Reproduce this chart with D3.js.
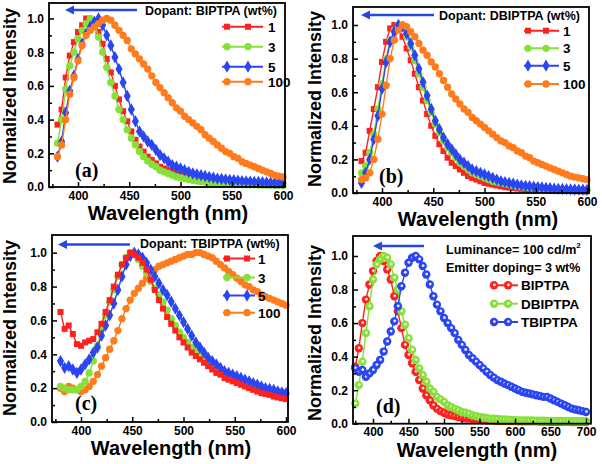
<!DOCTYPE html>
<html><head><meta charset="utf-8">
<script src="https://cdn.jsdelivr.net/npm/d3@7/dist/d3.min.js"></script>
<style>
body{margin:0;background:#fff}
svg{display:block;background:#fff}
text{font-family:"Liberation Sans",Arial,sans-serif;font-weight:bold;fill:#000}
.plabel{font-family:"Liberation Serif","Times New Roman",serif;font-weight:bold}
</style>
</head><body>
<svg id="c" width="602" height="464"></svg>
<script>
// ---------- data ----------
const wlABC = [380,384,388,392,396,400,404,408,412,416,420,424,428,432,436,440,444,448,452,456,
  460,464,468,472,476,480,484,488,492,496,500,504,508,512,516,520,524,528,532,536,
  540,544,548,552,556,560,564,568,572,576,580,584,588,592,596,600];

// (a) BIPTPA
const a1 = [.37,.46,.65,.78,.86,.92,.96,1.0,.99,.97, .92,.85,.76,.68,.60,.52,.45,.39,.33,.28,
  .24,.21,.18,.16,.14,.12,.11,.10,.09,.08, .07,.065,.06,.05,.045,.04,.038,.035,.032,.03,
  .028,.026,.024,.022,.02,.02,.018,.017,.016,.015, .015,.014,.013,.013,.012,.012];
const a3 = [.26,.40,.58,.72,.80,.88,.93,.97,1.0,.97, .89,.80,.71,.62,.54,.46,.40,.34,.29,.25,
  .21,.18,.155,.135,.12,.10,.09,.08,.07,.06, .055,.05,.045,.04,.035,.032,.03,.027,.025,.023,
  .021,.02,.018,.017,.016,.015,.014,.013,.013,.012, .012,.011,.011,.01,.01,.01];
const a5 = [.18,.27,.44,.57,.66,.76,.85,.91,.95,.98, 1.0,.96,.90,.84,.77,.70,.62,.54,.46,.39,
  .33,.30,.27,.25,.22,.19,.17,.15,.13,.12, .11,.10,.09,.08,.075,.07,.065,.06,.055,.05,
  .048,.045,.042,.04,.038,.035,.033,.032,.03,.03, .028,.027,.026,.025,.025,.024];
const a100 = [.18,.25,.40,.55,.65,.75,.84,.90,.93,.95, .97,.99,1.0,.99,.96,.93,.90,.87,.82,.79,
  .76,.73,.70,.66,.62,.59,.56,.53,.50,.47, .45,.42,.40,.38,.36,.34,.31,.29,.27,.25,
  .23,.21,.20,.18,.17,.15,.14,.13,.12,.11, .10,.09,.08,.07,.065,.06];

// (b) DBIPTPA
const b1 = [.19,.24,.37,.50,.63,.78,.90,.98,1.0,.98, .93,.86,.79,.71,.63,.55,.47,.40,.34,.29,
  .25,.21,.18,.16,.14,.12,.10,.09,.08,.07, .06,.055,.05,.045,.04,.035,.032,.03,.027,.025,
  .023,.021,.02,.018,.017,.016,.015,.014,.013,.013, .012,.012,.011,.011,.01,.01];
const b3 = [.12,.16,.24,.35,.50,.65,.80,.91,.97,1.0, .98,.93,.87,.79,.71,.63,.55,.48,.41,.36,
  .31,.27,.24,.21,.18,.16,.14,.12,.11,.10, .09,.08,.07,.065,.06,.055,.05,.045,.04,.037,
  .034,.032,.03,.028,.026,.024,.022,.021,.02,.019, .018,.017,.016,.016,.015,.015];
const b5 = [.06,.12,.20,.32,.46,.62,.78,.90,.96,1.0, .99,.95,.89,.82,.74,.66,.58,.50,.43,.38,
  .33,.29,.26,.23,.20,.18,.16,.14,.13,.12, .11,.10,.09,.08,.07,.065,.06,.055,.05,.045,
  .042,.04,.037,.035,.033,.03,.028,.026,.025,.024, .023,.022,.021,.02,.02,.019];
const b100 = [.08,.09,.12,.20,.32,.47,.64,.80,.91,.97, 1.0,.99,.96,.93,.89,.85,.82,.78,.75,.71,
  .67,.63,.59,.56,.53,.50,.48,.45,.43,.41, .39,.37,.35,.33,.31,.30,.28,.27,.25,.24,
  .22,.21,.19,.18,.17,.16,.15,.14,.13,.12, .11,.10,.095,.09,.085,.08];

// (c) TBIPTPA
const c1 = [.65,.55,.57,.52,.46,.45,.47,.48,.49,.53, .58,.65,.72,.80,.87,.93,.97,1.0,.99,.97,
  .94,.90,.84,.78,.72,.67,.62,.58,.54,.50, .47,.44,.41,.39,.37,.35,.33,.31,.29,.28,
  .26,.25,.24,.23,.22,.21,.20,.19,.18,.17, .165,.16,.15,.145,.14,.135];
const c3 = [.21,.20,.19,.19,.19,.21,.24,.29,.36,.45, .55,.63,.71,.78,.86,.93,.97,1.0,.99,.96,
  .92,.88,.83,.79,.75,.71,.66,.61,.57,.53, .50,.47,.44,.42,.40,.38,.36,.34,.32,.31,
  .29,.28,.27,.26,.25,.24,.23,.22,.21,.20, .195,.19,.185,.18,.175,.17];
const c5 = [.36,.32,.33,.31,.29,.31,.34,.37,.41,.44, .51,.57,.63,.70,.78,.86,.93,.98,1.0,.99,
  .97,.94,.90,.86,.82,.78,.75,.71,.67,.63, .59,.55,.51,.47,.44,.41,.38,.36,.34,.32,
  .30,.29,.28,.27,.26,.25,.24,.23,.22,.21, .20,.195,.19,.18,.175,.17];
const c100 = [.20,.18,.21,.20,.19,.18,.19,.21,.24,.28, .33,.38,.43,.48,.54,.61,.67,.72,.76,.79,
  .82,.85,.88,.90,.92,.93,.94,.95,.96,.97, .98,.99,.99,1.0,1.0,.99,.98,.97,.95,.93,
  .91,.89,.87,.85,.83,.81,.80,.78,.77,.75, .74,.73,.72,.71,.70,.69];

// (d) 100 cd/m2, 3 wt%
const wlD = [375,380,385,390,395,400,405,410,415,420,425,430,435,440,445,450,455,460,465,470,
  475,480,485,490,495,500,505,510,515,520,525,530,535,540,545,550,555,560,565,570,
  575,580,585,590,595,600,605,610,615,620,625,630,635,640,645,650,655,660,665,670,
  675,680,685,690,695,700];
const dB = [.34,.45,.60,.74,.83,.91,.97,1.0,.97,.92, .86,.76,.67,.57,.47,.41,.36,.31,.26,.21,
  .17,.14,.11,.09,.075,.065,.055,.05,.045,.04, .035,.032,.03,.028,.026,.024,.022,.02,.02,.019,
  .018,.018,.017,.017,.016,.016,.015,.015,.015,.014, .014,.014,.013,.013,.013,.012,.012,.012,.011,.011,
  .011,.01,.01,.01,.01,.01];
const dD = [.12,.23,.37,.54,.70,.86,.95,.98,1.0,.99, .95,.87,.80,.67,.59,.51,.44,.38,.33,.29,
  .25,.21,.19,.16,.145,.13,.11,.10,.09,.08, .07,.065,.06,.05,.045,.04,.037,.035,.03,.03,
  .028,.026,.025,.024,.022,.021,.02,.02,.02,.019, .019,.018,.018,.018,.017,.017,.016,.016,.016,.015,
  .015,.015,.015,.015,.015,.015];
const dT = [.33,.31,.32,.28,.30,.32,.35,.38,.43,.49, .55,.61,.70,.82,.90,.96,.99,1.0,.98,.94,
  .89,.83,.76,.71,.67,.63,.60,.57,.54,.50, .47,.44,.41,.39,.37,.35,.33,.31,.29,.275,
  .26,.25,.24,.23,.22,.21,.20,.19,.185,.18, .175,.17,.165,.16,.16,.15,.14,.13,.12,.11,
  .10,.09,.085,.08,.075,.07];

const yTicks = [0, 0.2, 0.4, 0.6, 0.8, 1.0];
const yMinor = [0.1, 0.3, 0.5, 0.7, 0.9];
const xTicksABC = [400, 450, 500, 550, 600];
const xMinorABC = [375, 425, 475, 525, 575];
const xTicksD = [400, 450, 500, 550, 600, 650, 700];
const xMinorD = [375, 425, 475, 525, 575, 625, 675];
const legendABC = ["1", "3", "5", "100"];
const legendD = ["BIPTPA", "DBIPTPA", "TBIPTPA"];
const dopantText = ["Dopant: BIPTPA (wt%)", "Dopant: DBIPTPA (wt%)", "Dopant: TBIPTPA (wt%)"];
const panelLabels = ["(a)", "(b)", "(c)", "(d)"];
const xTitle = "Wavelength (nm)";
const yTitle = "Normalized Intensity";

// ---------- styling ----------
const RED = "#ff2020", GREEN = "#86e03a", BLUE = "#2a46f2", ORANGE = "#ff7b1c", ARROW = "#2848dc";
const svg = d3.select("#c");

const panels = [
  {frame:{l:49,r:285,t:3,b:187}, y1:18.5, xAnch:[400,600], xPix:[78,283], major:xTicksABC, minor:xMinorABC,
   wl:wlABC, series:[[a1,RED,"sq"],[a3,GREEN,"ci"],[a5,BLUE,"di"],[a100,ORANGE,"ci"]],
   legend:{labels:legendABC, x1:222, x2:263, m:[227,248], tx:268, ys:[26.7,46.7,66.7,81.7]},
   arrow:{x1:137,x2:65,y:10}, note:{lines:[dopantText[0]], x:145, ys:[14.5]},
   label:{t:panelLabels[0], x:75, y:177}, xt:{x:168}, yt:{x:16, y:96}},
  {frame:{l:353,r:589,t:7,b:193}, y1:25, xAnch:[400,600], xPix:[382,587], major:xTicksABC, minor:xMinorABC,
   wl:wlABC, series:[[b1,RED,"sq"],[b3,GREEN,"ci"],[b5,BLUE,"di"],[b100,ORANGE,"ci"]],
   legend:{labels:legendABC, x1:524, x2:559, m:[528,546], tx:563, ys:[30.7,48.3,65.7,84]},
   arrow:{x1:434,x2:361,y:15}, note:{lines:[dopantText[1]], x:439, ys:[19.5]},
   label:{t:panelLabels[1], x:379, y:183}, xt:{x:478}, yt:{x:321, y:99}},
  {frame:{l:52,r:288,t:235,b:422}, y1:252.7, xAnch:[400,600], xPix:[81,286], major:xTicksABC, minor:xMinorABC,
   wl:wlABC, series:[[c100,ORANGE,"ci"],[c3,GREEN,"ci"],[c5,BLUE,"di"],[c1,RED,"sq"]],
   legendOrder:[3,1,2,0],
   legend:{labels:legendABC, x1:223, x2:255, m:[227,247], tx:258, ys:[258.5,277.5,295.5,312.7]},
   arrow:{x1:130,x2:58,y:244.5}, note:{lines:[dopantText[2]], x:140, ys:[248]},
   label:{t:panelLabels[2], x:75, y:410}, xt:{x:171}, yt:{x:16, y:328}},
  {frame:{l:353,r:591,t:236,b:423.7}, y1:256, xAnch:[400,700], xPix:[373,586], major:xTicksD, minor:xMinorD,
   wl:wlD, series:[[dB,RED,"sp"],[dD,GREEN,"sp"],[dT,BLUE,"sp"]],
   legend:{labels:legendD, x1:491, x2:518, m:[494,508], tx:521, ys:[285.3,303.7,322]},
   arrow:{x1:424,x2:373,y:246}, note:{lines:["Luminance= 100 cd/m", "Emitter doping= 3 wt%"], x:446, ys:[254,272], sup:true},
   label:{t:panelLabels[3], x:376, y:413}, xt:{x:477}, yt:{x:321, y:333}}
];

function drawMarker(g, type, color, cx, cy) {
  if (type === "sp") {
    g.append("circle").attr("cx", cx).attr("cy", cy).attr("r", 4.2).attr("fill", color);
    g.append("circle").attr("cx", cx + 0.4).attr("cy", cy - 0.4).attr("r", 1.4).attr("fill", "#fff").attr("opacity", 0.9);
    return;
  }
  const t = type === "sq" ? d3.symbolSquare : type === "di" ? d3.symbolDiamond : d3.symbolCircle;
  const size = type === "sq" ? 36 : type === "di" ? 44 : 42;
  g.append("path").attr("d", d3.symbol().type(t).size(size)())
    .attr("transform", `translate(${cx},${cy})`).attr("fill", color);
}

panels.forEach(p => {
  const f = p.frame;
  const g = svg.append("g");
  const k = (p.xPix[1] - p.xPix[0]) / (p.xAnch[1] - p.xAnch[0]);
  const x = d3.scaleLinear()
    .domain([p.xAnch[0] - (p.xPix[0] - f.l) / k, p.xAnch[1] + (f.r - p.xPix[1]) / k])
    .range([f.l, f.r]);
  const y = d3.scaleLinear().domain([0, 1]).range([f.b, p.y1]);

  // series
  const line = d3.line().x((d, i) => x(p.wl[i])).y(d => y(d));
  p.series.forEach(([vals, color, type]) => {
    const sg = g.append("g");
    sg.append("path").attr("d", line(vals)).attr("fill", "none")
      .attr("stroke", color).attr("stroke-width", 1.4);
    vals.forEach((v, i) => drawMarker(sg, type, color, x(p.wl[i]), y(v)));
  });

  // axes
  const ax = g.append("g").attr("transform", `translate(0,${f.b})`)
    .call(d3.axisBottom(x).tickValues(p.major).tickSize(-5).tickPadding(4).tickFormat(d3.format("d")));
  const axm = g.append("g").attr("transform", `translate(0,${f.b})`)
    .call(d3.axisBottom(x).tickValues(p.minor).tickSize(-3).tickFormat(""));
  const ay = g.append("g").attr("transform", `translate(${f.l},0)`)
    .call(d3.axisLeft(y).tickValues(yTicks).tickSize(-5).tickPadding(5).tickFormat(d3.format(".1f")));
  const aym = g.append("g").attr("transform", `translate(${f.l},0)`)
    .call(d3.axisLeft(y).tickValues(yMinor).tickSize(-3).tickFormat(""));
  [ax, axm, ay, aym].forEach(a => {
    a.select(".domain").remove();
    a.selectAll("line").attr("stroke", "#000").attr("stroke-width", 1.5);
    a.selectAll("text").attr("font-size", 12).attr("font-family", "Liberation Sans, Arial, sans-serif")
      .attr("font-weight", "bold").attr("fill", "#000");
  });
  g.append("rect").attr("x", f.l).attr("y", f.t).attr("width", f.r - f.l).attr("height", f.b - f.t)
    .attr("fill", "none").attr("stroke", "#000").attr("stroke-width", 1.8);

  // titles
  g.append("text").attr("x", p.xt.x).attr("y", f.b + 33).attr("text-anchor", "middle")
    .attr("font-size", 20).text(xTitle);
  g.append("text").attr("transform", `translate(${p.yt.x},${p.yt.y}) rotate(-90)`)
    .attr("text-anchor", "middle").attr("font-size", 18).text(yTitle);
  g.append("text").attr("class", "plabel").attr("x", p.label.x).attr("y", p.label.y)
    .attr("font-size", 20).text(p.label.t);

  // arrow
  const a = p.arrow;
  g.append("line").attr("x1", a.x1).attr("x2", a.x2 + 7).attr("y1", a.y).attr("y2", a.y)
    .attr("stroke", ARROW).attr("stroke-width", 2.6);
  g.append("path").attr("d", `M${a.x2},${a.y} L${a.x2 + 9},${a.y - 4.5} L${a.x2 + 9},${a.y + 4.5} Z`)
    .attr("fill", ARROW);

  // note text
  p.note.lines.forEach((t, i) => {
    const tx = g.append("text").attr("x", p.note.x).attr("y", p.note.ys[i]).attr("font-size", 12.5).text(t);
    if (p.note.sup && i === 0) tx.append("tspan").attr("font-size", 8).attr("dy", -6).text("2");
  });

  // legend
  const L = p.legend;
  const order = p.legendOrder || p.series.map((_, i) => i);
  order.forEach((si, row) => {
    const [, color, type] = p.series[si];
    const yy = L.ys[row];
    const lg = g.append("g");
    lg.append("line").attr("x1", L.x1).attr("x2", L.x2).attr("y1", yy).attr("y2", yy)
      .attr("stroke", color).attr("stroke-width", 2);
    L.m.forEach(mx => drawMarker(lg, type, color, mx, yy));
    lg.append("text").attr("x", L.tx).attr("y", yy + 5).attr("font-size", 13.5).text(L.labels[row]);
  });
});
</script>
</body></html>
